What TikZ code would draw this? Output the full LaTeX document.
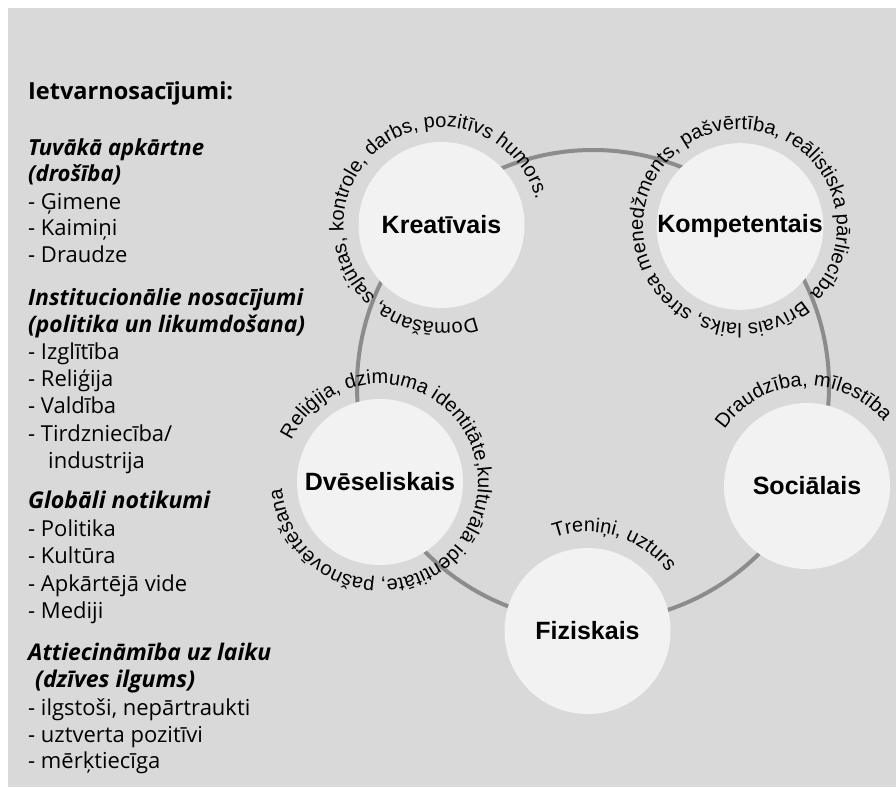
\documentclass[tikz,border=0pt]{standalone}
\usepackage{fontspec}
\usepackage{graphicx}
\setmainfont{Liberation Sans}
\newfontfamily\leftfont{Open Sans}
\usetikzlibrary{decorations.text}
\definecolor{bgg}{HTML}{D9D9D9}
\definecolor{ringg}{HTML}{8C8C8C}
\definecolor{circf}{HTML}{F2F2F2}
\newcommand{\wfit}[2]{\resizebox{#1pt}{!}{#2}}
\tikzset{
  dombox/.style={circle, fill=circf, minimum size=166pt, inner sep=0pt,
    font=\fontsize{25}{30}\selectfont\bfseries},
  lt/.style={anchor=base west, inner sep=0pt, font=\leftfont\fontsize{22}{26}\selectfont},
  lsub/.style={anchor=base west, inner sep=0pt, font=\leftfont\fontsize{20}{24}\selectfont\bfseries\itshape},
  ltitle/.style={anchor=base west, inner sep=0pt, font=\leftfont\fontsize{23}{28}\selectfont\bfseries},
  curv/.style={decorate, decoration={text along path, text align=left,
    text={|\fontsize{20}{24}\selectfont|#1}}}
}
\begin{document}
\begin{tikzpicture}[x=1pt,y=1pt]
\useasboundingbox (0,0) rectangle (896,-787);
\fill[white] (0,0) rectangle (896,-787);
\fill[bgg] (8,-8) rectangle (896,-787);

% ring
\draw[ringg, line width=4pt] (593,-386) circle[radius=236];

% domain circles
\node[dombox] (kre) at (441.5,-225) {Kreatīvais};
\node[dombox] (kom) at (740,-226.5) {Kompetentais};
\node[dombox] (dve) at (380,-482) {Dvēseliskais};
\node[dombox] (soc) at (807,-486) {Sociālais};
\node[dombox] (fiz) at (587.5,-631) {Fiziskais};

% curved texts
\path[curv={Domāšana, sajūtas, kontrole, darbs, pozitīvs humors.}]
  (kre.center) ++(-69.5:98) arc[start angle=-69.5, delta angle=-355, radius=98];
\path[curv={Brīvais laiks, stresa menedžments, pašvērtība, reālistiska pārliecība}]
  (kom.center) ++(-49.5:97) arc[start angle=-49.5, delta angle=-359, radius=97];
\path[curv={Reliģija, dzimuma identitāte,kulturālā identitāte, pašnovērtēšana}]
  (dve.center) ++(154.7:98) arc[start angle=154.7, delta angle=-359, radius=98];
\path[curv={Draudzība, mīlestība}]
  (soc.center) ++(145.6:100) arc[start angle=145.6, delta angle=-160, radius=100];
\path[curv={Treniņi, uzturs}]
  (fiz.center) ++(109.5:99) arc[start angle=109.5, delta angle=-120, radius=99];

% left column
\node[ltitle] (t0) at (28,-99) {\wfit{205}{Ietvarnosacījumi:}};
\node[lsub] (a0) at (28,-155) {\wfit{176}{Tuvākā apkārtne}};
\node[lsub] (a1) at (28,-181) {\wfit{93}{(drošība)}};
\node[lt] (a2) at (28,-209) {- Ģimene};
\node[lt] (a3) at (28,-235) {- Kaimiņi};
\node[lt] (a4) at (28,-262) {- Draudze};
\node[lsub] (b0) at (28,-305) {\wfit{275}{Institucionālie nosacījumi}};
\node[lsub] (b1) at (28,-332) {\wfit{277}{(politika un likumdošana)}};
\node[lt] (b2) at (28,-359) {- Izglītība};
\node[lt] (b3) at (28,-386) {- Reliģija};
\node[lt] (b4) at (28,-413) {- Valdība};
\node[lt] (b5) at (28,-441) {- Tirdzniecība/};
\node[lt] (b6) at (48,-468) {industrija};
\node[lsub] (c0) at (28,-508) {\wfit{182}{Globāli notikumi}};
\node[lt] (c1) at (28,-536) {- Politika};
\node[lt] (c2) at (28,-563) {- Kultūra};
\node[lt] (c3) at (28,-591) {- Apkārtējā vide};
\node[lt] (c4) at (28,-618) {- Mediji};
\node[lsub] (d0) at (28,-660) {\wfit{243}{Attiecināmība uz laiku}};
\node[lsub] (d1) at (35,-687) {\wfit{160}{(dzīves ilgums)}};
\node[lt] (d2) at (28,-715) {- ilgstoši, nepārtraukti};
\node[lt] (d3) at (28,-742) {- uztverta pozitīvi};
\node[lt] (d4) at (28,-768) {- mērķtiecīga};
\end{tikzpicture}
\end{document}
